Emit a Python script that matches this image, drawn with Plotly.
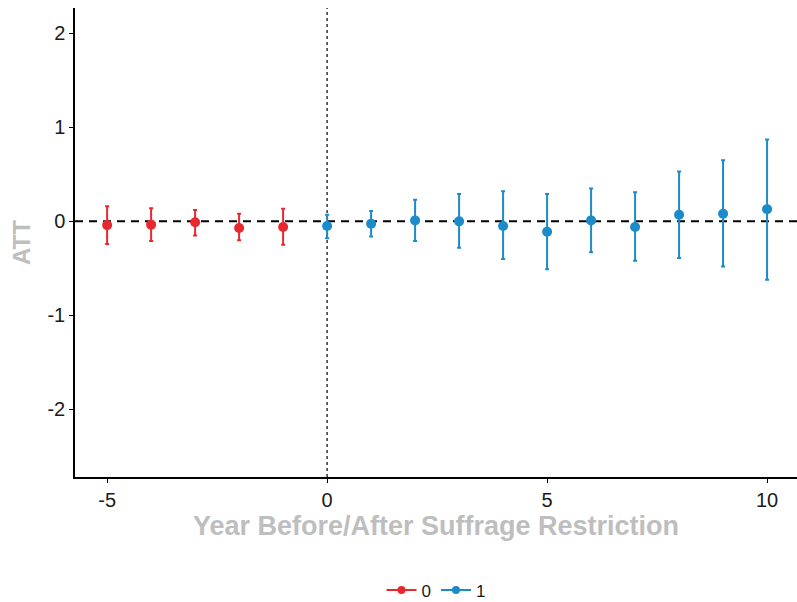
import plotly.graph_objects as go

x_pre = [-5, -4, -3, -2, -1]
att_pre = [-0.04, -0.035, -0.01, -0.07, -0.06]
hi_pre = [0.16, 0.14, 0.12, 0.08, 0.135]
lo_pre = [-0.24, -0.21, -0.15, -0.20, -0.25]

x_post = [0, 1, 2, 3, 4, 5, 6, 7, 8, 9, 10]
att_post = [-0.05, -0.025, 0.01, 0.0, -0.05, -0.11, 0.01, -0.06, 0.07, 0.08, 0.13]
hi_post = [0.07, 0.11, 0.23, 0.29, 0.32, 0.29, 0.35, 0.31, 0.53, 0.65, 0.87]
lo_post = [-0.18, -0.16, -0.21, -0.28, -0.40, -0.51, -0.33, -0.42, -0.39, -0.48, -0.62]

x_ticks = [-5, 0, 5, 10]
x_ticktext = ["-5", "0", "5", "10"]
y_ticks = [-2, -1, 0, 1, 2]
y_ticktext = ["-2", "-1", "0", "1", "2"]

RED = "#E8282F"
BLUE = "#1B8BC9"

fig = go.Figure()

def add_series(xs, ys, hi, lo, color, name):
    fig.add_trace(go.Scatter(
        x=xs, y=ys, mode="markers",
        marker=dict(color=color, size=10),
        error_y=dict(type="data", symmetric=False,
                     array=[h - y for h, y in zip(hi, ys)],
                     arrayminus=[y - l for l, y in zip(lo, ys)],
                     color=color, thickness=2, width=2),
        showlegend=False, cliponaxis=False))
    fig.add_trace(go.Scatter(
        x=[None], y=[None], mode="lines+markers", name=name,
        marker=dict(color=color, size=8), line=dict(color=color, width=2)))

fig.add_hline(y=0, line=dict(color="black", width=2, dash="8px,6px"), layer="below")
fig.add_vline(x=0, line=dict(color="#333333", width=1.5, dash="dot"), layer="below")

add_series(x_pre, att_pre, hi_pre, lo_pre, RED, "0")
add_series(x_post, att_post, hi_post, lo_post, BLUE, "1")

fig.update_layout(
    width=797, height=602,
    paper_bgcolor="white", plot_bgcolor="white",
    margin=dict(l=75, r=0, t=8, b=125, autoexpand=False),
    font=dict(family="Liberation Sans, Arial, sans-serif", size=20, color="#1a1a1a"),
    legend=dict(orientation="h", x=0.5, xanchor="center", y=-0.242, yanchor="middle",
                font=dict(size=17), itemwidth=30),
    xaxis=dict(range=[-5.73, 10.68], tickvals=x_ticks, ticktext=x_ticktext,
               showgrid=False, zeroline=False, automargin=False,
               showline=True, linecolor="black", linewidth=1.5,
               ticks="outside", ticklen=4, tickcolor="black",
               title=dict(text="<b>Year Before/After Suffrage Restriction</b>",
                          font=dict(size=27, color="#BEBEBE"), standoff=4)),
    yaxis=dict(range=[-2.72, 2.27], tickvals=y_ticks, ticktext=y_ticktext,
               showgrid=False, zeroline=False, automargin=False,
               showline=True, linecolor="black", linewidth=1.5,
               ticks="outside", ticklen=4, tickcolor="black",
               title=dict(text="<b>ATT</b>", font=dict(size=24, color="#BEBEBE"), standoff=10)),
)

fig.write_html("out.html")
